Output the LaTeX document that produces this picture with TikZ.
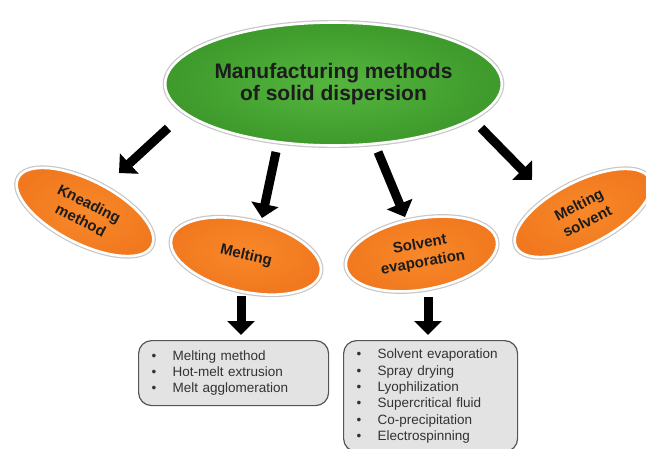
\documentclass[tikz,border=0pt]{standalone}
\usepackage{fontspec}
\setmainfont{Liberation Sans}
\usetikzlibrary{arrows.meta,shapes.geometric}
\definecolor{grnin}{HTML}{56B53F}
\definecolor{grnout}{HTML}{3D9A2B}
\definecolor{orgin}{HTML}{F8882A}
\definecolor{orgout}{HTML}{F1781E}
\definecolor{boxfill}{HTML}{E3E3E3}
\definecolor{boxline}{HTML}{555555}
\definecolor{ink}{HTML}{1C1C1C}
\newcommand{\itm}[1]{\makebox[21pt][l]{\textbullet}#1}
\begin{document}
\begin{tikzpicture}[x=1pt,y=-1pt,
  bubble/.style={ellipse, draw=white, line width=2.6pt,
    preaction={draw=black!22, line width=5pt},
    inner sep=0pt, align=center, text=ink},
  mainbub/.style={bubble, inner color=grnin, outer color=grnout,
    font=\bfseries\fontsize{21}{22.5}\selectfont},
  subbub/.style={bubble, inner color=orgin, outer color=orgout,
    font=\bfseries\fontsize{15}{18.5}\selectfont},
  bigarrow/.style={draw=black, line width=9pt,
    -{Triangle[width=27pt,length=14pt]}},
  listbox/.style={rectangle, rounded corners=13pt, draw=boxline,
    line width=1.2pt, fill=boxfill, inner xsep=13pt, inner ysep=0pt,
    align=left, text=black!80, font=\fontsize{13.5}{16.3}\selectfont,
    anchor=north west}
]
\useasboundingbox (0,0) rectangle (646,448);
\clip (0,0) rectangle (646,448);

% main node
\node[mainbub, minimum width=318pt, minimum height=123pt] (main) at (333.5,84)
  {Manufacturing methods\\of solid dispersion};

% method nodes
\node[subbub, minimum width=150pt, minimum height=63pt, rotate=-27] (knead) at (85,212)
  {Kneading\\method};
\node[subbub, minimum width=153pt, minimum height=71pt, rotate=-13] (melt) at (246,256)
  {Melting};
\node[subbub, minimum width=153pt, minimum height=71pt, rotate=10] (solv) at (421.5,254)
  {Solvent\\evaporation};
\node[subbub, minimum width=150pt, minimum height=63pt, rotate=27] (msolv) at (583,213)
  {Melting\\solvent};

% list boxes
\node[listbox, minimum height=65pt, text width=164pt] (list1) at (138,340)
  {\itm{Melting method}\\\itm{Hot-melt extrusion}\\\itm{Melt agglomeration}};
\node[listbox, minimum height=111pt, text width=148pt] (list2) at (343,340)
  {\itm{Solvent evaporation}\\\itm{Spray drying}\\\itm{Lyophilization}\\\itm{Supercritical fluid}\\\itm{Co-precipitation}\\\itm{Electrospinning}};

% arrow end points
\coordinate (a1s) at (168,128);  \coordinate (a1e) at (119,173);
\coordinate (a2s) at (276,152);  \coordinate (a2e) at (262,218);
\coordinate (a3s) at (378,152);  \coordinate (a3e) at (405,217);
\coordinate (a4s) at (481,128);  \coordinate (a4e) at (532,180);
\coordinate (a5s) at (241,296);  \coordinate (a5e) at (241,335);
\coordinate (a6s) at (428,297);  \coordinate (a6e) at (428,335);

\draw[bigarrow] (a1s) -- (a1e);
\draw[bigarrow] (a2s) -- (a2e);
\draw[bigarrow] (a3s) -- (a3e);
\draw[bigarrow] (a4s) -- (a4e);
\draw[bigarrow] (a5s) -- (a5e);
\draw[bigarrow] (a6s) -- (a6e);
\end{tikzpicture}
\end{document}
